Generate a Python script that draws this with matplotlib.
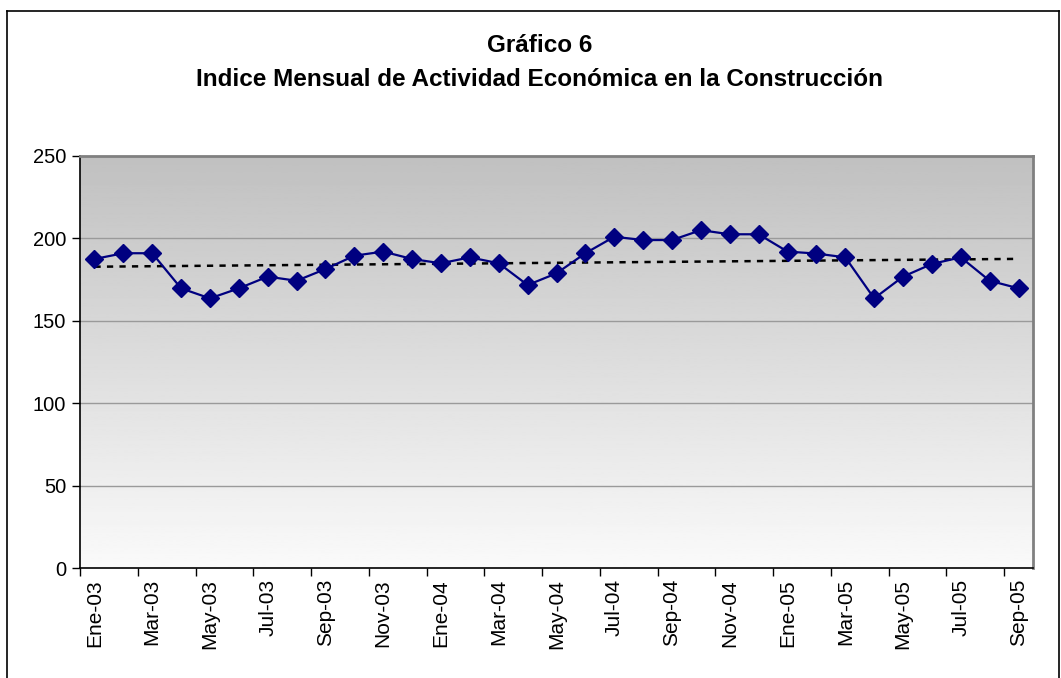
import numpy as np
import matplotlib
matplotlib.use("Agg")
import matplotlib.pyplot as plt
from matplotlib.lines import Line2D

plt.rcParams['font.family'] = ['Liberation Sans', 'DejaVu Sans']

months = ["Ene", "Feb", "Mar", "Abr", "May", "Jun", "Jul", "Ago", "Sep", "Oct", "Nov", "Dic"]
categories = [f"{months[i % 12]}-{3 + i // 12:02d}" for i in range(33)]
values = [187.5, 191, 191, 169.7, 163.6, 169.7, 176.8, 174.3, 181.4, 189.5, 192,
          187.5, 184.9, 188.5, 184.9, 171.7, 178.8, 191, 201, 199, 199, 205,
          202.5, 202.5, 192, 190.8, 188.5, 163.6, 176.8, 184.5, 188.5, 174.3, 169.7]
yticks = [0, 50, 100, 150, 200, 250]

W, H = 1061, 678
fig = plt.figure(figsize=(W / 100, H / 100), dpi=100)

# outer frame
fig.add_artist(Line2D([7 / W, 7 / W], [0, 1 - 11 / H], transform=fig.transFigure, color='black', lw=1.2))
fig.add_artist(Line2D([7 / W, 1059 / W], [1 - 11 / H, 1 - 11 / H], transform=fig.transFigure, color='black', lw=1.2))
fig.add_artist(Line2D([1059 / W, 1059 / W], [0, 1 - 11 / H], transform=fig.transFigure, color='black', lw=1.2))

ax = fig.add_axes([80 / W, (H - 568) / H, (1033 - 80) / W, (568 - 156) / H])

x = np.arange(len(values))
ax.set_xlim(-0.5, len(values) - 0.5)

# gradient background (dark at top, light at bottom)
grad = np.linspace(0.753, 0.98, 256).reshape(-1, 1)
ax.imshow(grad, cmap='gray', vmin=0, vmax=1, aspect='auto',
          extent=[-0.5, len(values) - 0.5, 0, 250], origin='upper', zorder=0)
ax.set_ylim(0, 250)

for yv in yticks[1:-1]:
    ax.axhline(yv, color='#9a9a9a', lw=1.0, zorder=1)

ax.plot(x, values, color='#000080', lw=1.6, marker='D', ms=9, zorder=3)

coef = np.polyfit(x, values, 1)
ax.plot(x, np.polyval(coef, x), color='black', lw=1.8, ls=(0, (2.5, 2.5)), zorder=2)

ax.set_yticks(yticks)
ax.set_yticklabels([str(v) for v in yticks], fontsize=14.5)
ax.set_xticks(np.arange(-0.5, len(values) - 1, 2))
ax.set_xticklabels([])
ax.set_xticks(x[::2], minor=True)
ax.set_xticklabels([categories[i] for i in x[::2]], minor=True, rotation=90, fontsize=15)
ax.tick_params(axis='x', which='minor', length=0, pad=8)
ax.tick_params(axis='x', which='major', length=6, width=1, color='black', direction='out')
ax.tick_params(axis='y', length=6, width=1, direction='out', pad=4)

for s in ['left', 'bottom']:
    ax.spines[s].set_color('black')
    ax.spines[s].set_linewidth(1.2)
for s in ['top', 'right']:
    ax.spines[s].set_color('#808080')
    ax.spines[s].set_linewidth(2)

fig.text(540 / W, 1 - 45 / H, "Gráfico 6", ha='center', va='center', fontsize=17.5, fontweight='bold')
fig.text(540 / W, 1 - 79 / H, "Indice Mensual de Actividad Económica en la Construcción",
         ha='center', va='center', fontsize=17.5, fontweight='bold')

fig.savefig("out.png", dpi=100)
